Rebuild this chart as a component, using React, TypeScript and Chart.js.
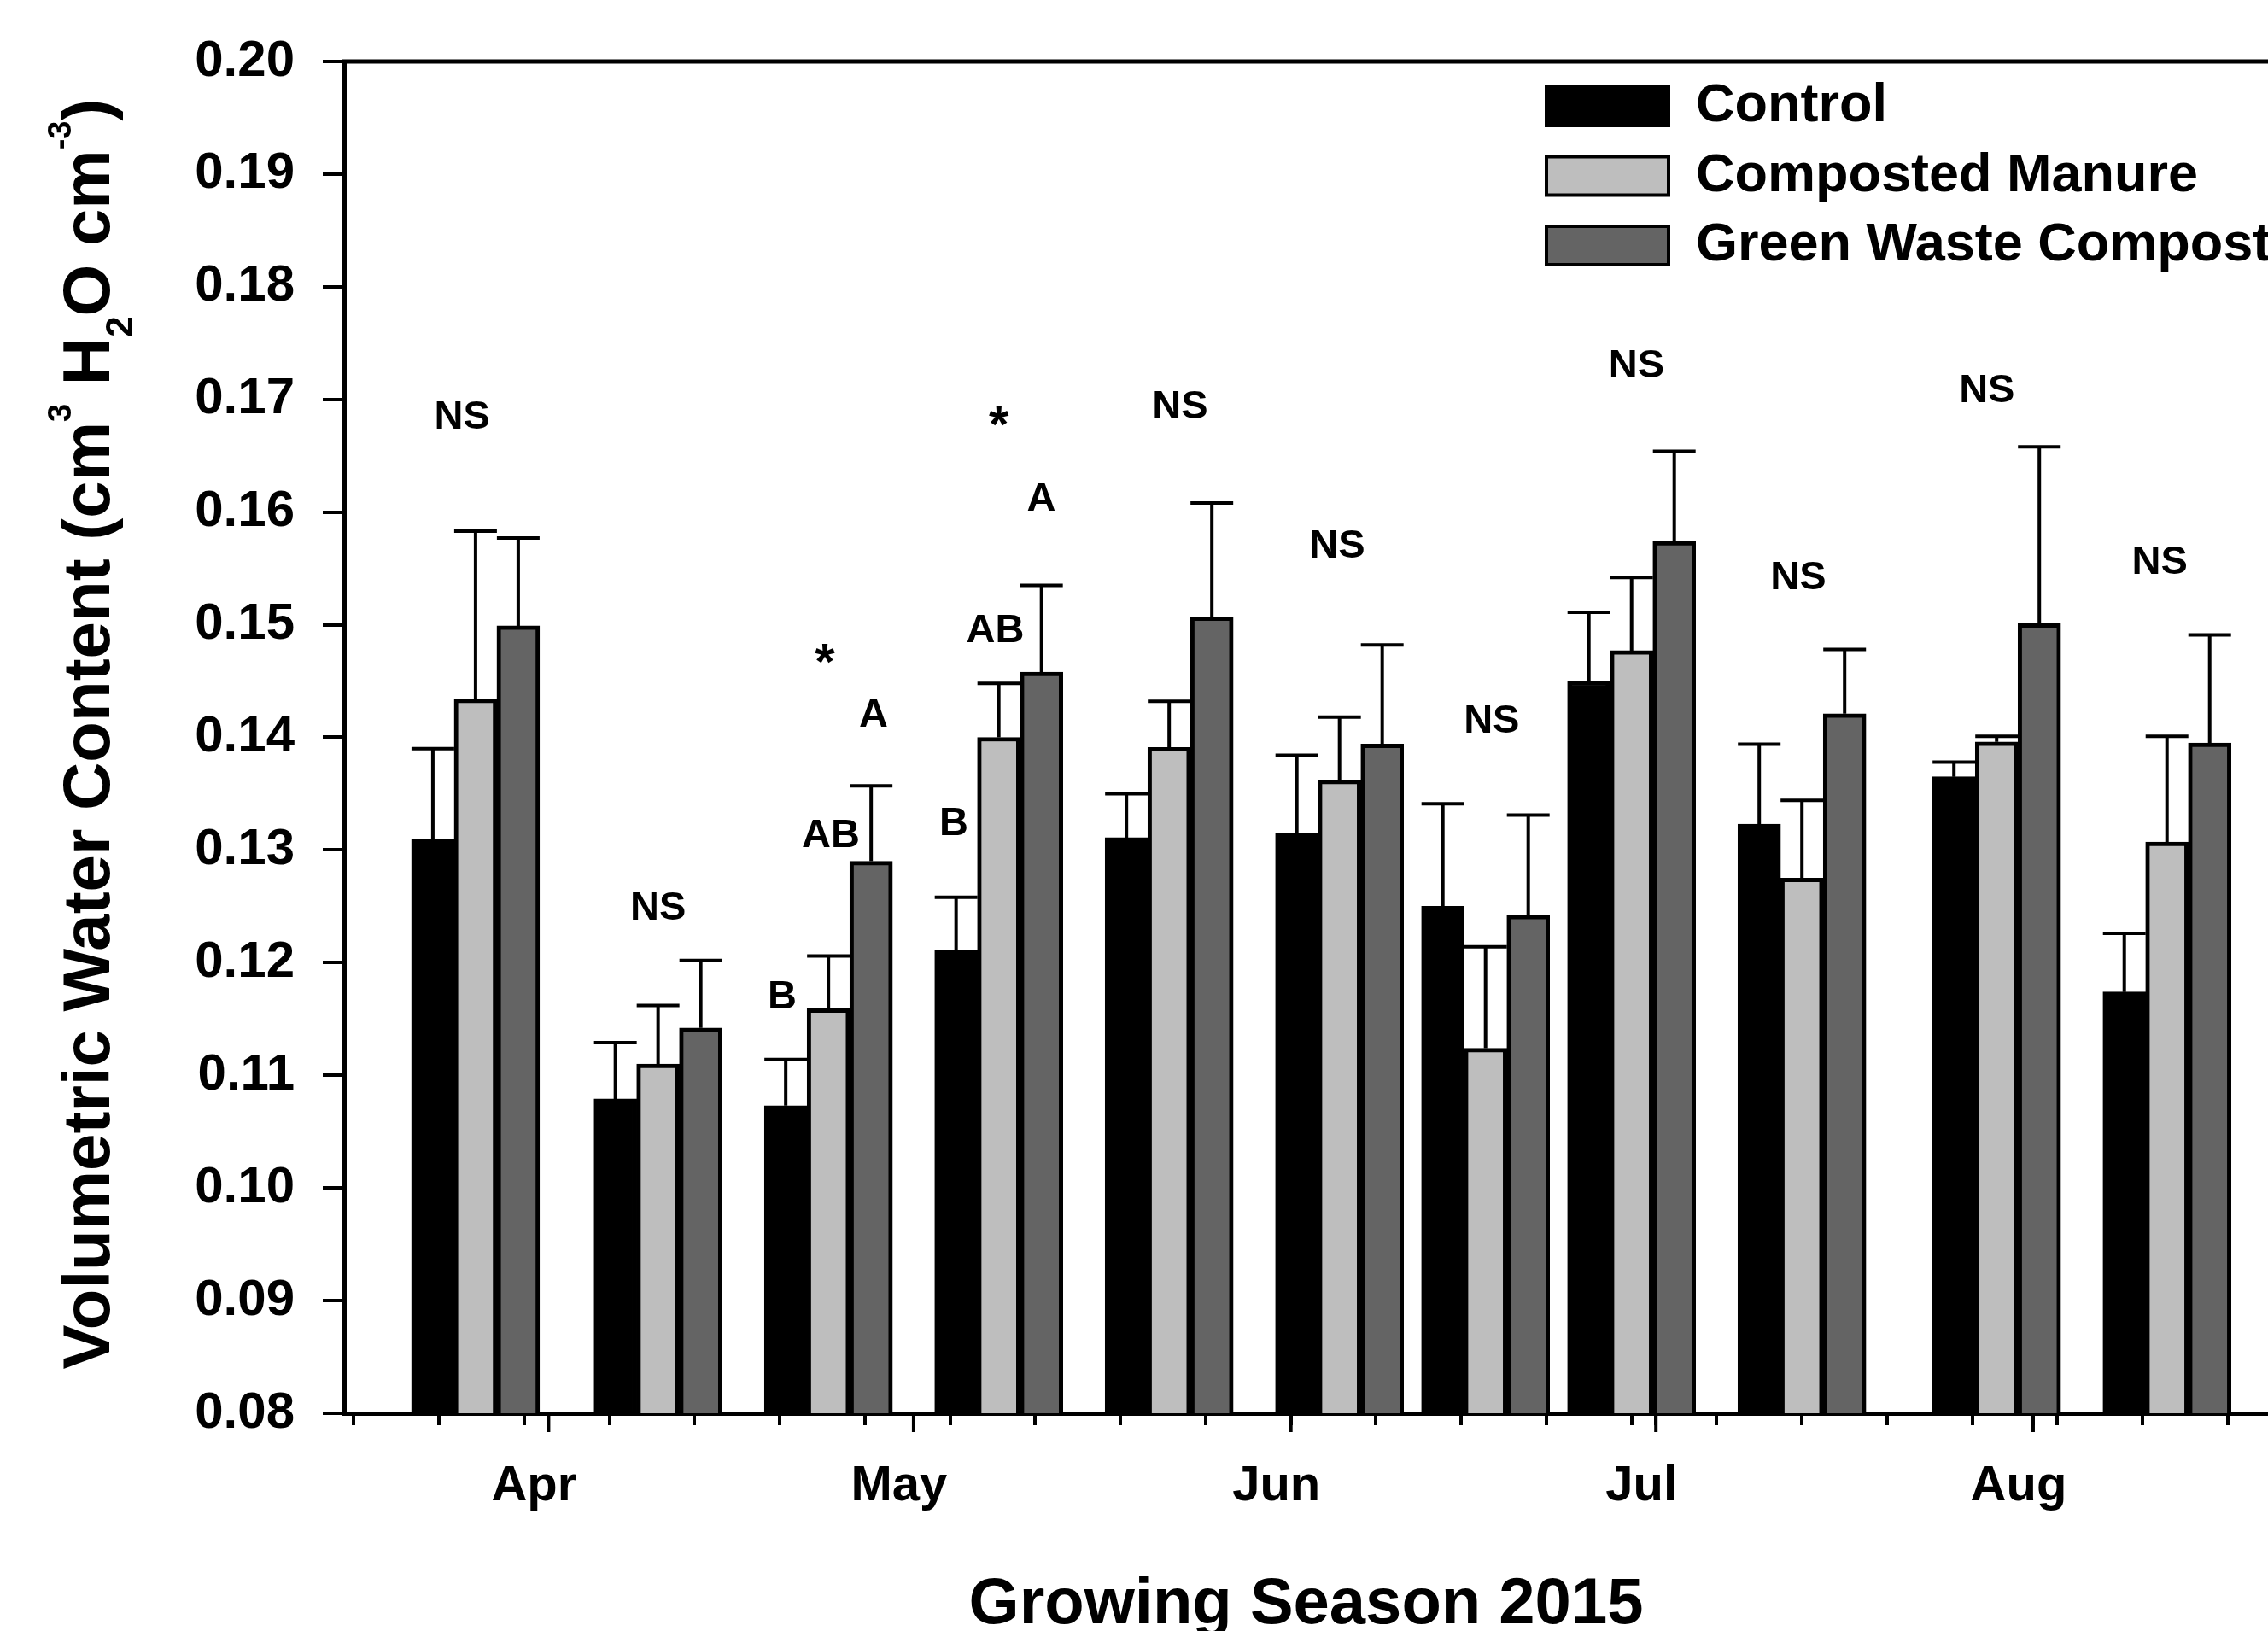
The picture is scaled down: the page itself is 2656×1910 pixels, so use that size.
import { useEffect, useRef } from 'react';
import { Chart, registerables } from 'chart.js';

Chart.register(...registerables);
Chart.defaults.font.family = "'Liberation Sans', Arial, Helvetica, sans-serif";
Chart.defaults.color = '#000';

// ---------------- data ----------------
const sampleDates = [
  '2015-03-26', '2015-04-10', '2015-04-24', '2015-05-08', '2015-05-22', '2015-06-05',
  '2015-06-17', '2015-06-29', '2015-07-13', '2015-07-29', '2015-08-12',
];
const seriesNames = ['Control', 'Composted Manure', 'Green Waste Compost'];
const seriesColors = ['#000000', '#bebebe', '#646464'];

const control = [0.1310, 0.1079, 0.1073, 0.1211, 0.1311, 0.1315, 0.1250, 0.1450, 0.1323, 0.1365, 0.1174];
const controlErr = [0.0080, 0.0050, 0.0041, 0.0047, 0.0039, 0.0069, 0.0091, 0.0061, 0.0071, 0.0013, 0.0052];
const manure = [0.1434, 0.1110, 0.1159, 0.1400, 0.1391, 0.1362, 0.1124, 0.1477, 0.1275, 0.1396, 0.1307];
const manureErr = [0.0149, 0.0052, 0.0047, 0.0048, 0.0041, 0.0056, 0.0090, 0.0065, 0.0069, 0.0005, 0.0094];
const green = [0.1499, 0.1142, 0.1290, 0.1458, 0.1507, 0.1394, 0.1242, 0.1574, 0.1421, 0.1501, 0.1395];
const greenErr = [0.0078, 0.0060, 0.0067, 0.0077, 0.0101, 0.0088, 0.0089, 0.0080, 0.0057, 0.0157, 0.0096];

const monthStarts = ['2015-04-01', '2015-05-01', '2015-06-01', '2015-07-01', '2015-08-01'];
const monthLabels = ['Apr', 'May', 'Jun', 'Jul', 'Aug'];
const firstWeeklyTick = '2015-03-16';
const lastWeeklyTick = '2015-08-17';

const yMin = 0.08;
const yMax = 0.2;
const yStep = 0.01;
// x-axis limits, in days from 1 April 2015
const xMinDay = -16.8;
const xMaxDay = 141.3;

// significance annotations: text, position in days from 1 April and in y units
const annotations = [
  { text: 'NS', day: -7.1, value: 0.1687 },
  { text: 'NS', day: 9.0, value: 0.1251 },
  { text: '*', day: 22.7, value: 0.1471 },
  { text: 'A', day: 26.7, value: 0.1422 },
  { text: 'AB', day: 23.2, value: 0.1315 },
  { text: 'B', day: 19.2, value: 0.1172 },
  { text: '*', day: 37.0, value: 0.1682 },
  { text: 'A', day: 40.5, value: 0.1614 },
  { text: 'AB', day: 36.7, value: 0.1497 },
  { text: 'B', day: 33.3, value: 0.1326 },
  { text: 'NS', day: 51.9, value: 0.1696 },
  { text: 'NS', day: 64.8, value: 0.1572 },
  { text: 'NS', day: 77.5, value: 0.1417 },
  { text: 'NS', day: 89.4, value: 0.1732 },
  { text: 'NS', day: 102.7, value: 0.1544 },
  { text: 'NS', day: 118.2, value: 0.1710 },
  { text: 'NS', day: 132.4, value: 0.1558 },
];

const xTitle = 'Growing Season 2015';
const yTitleParts = [
  { text: 'Volumetric Water Content (cm', kind: 'normal' },
  { text: '3', kind: 'sup' },
  { text: ' H', kind: 'normal' },
  { text: '2', kind: 'sub' },
  { text: 'O cm', kind: 'normal' },
  { text: '-3', kind: 'sup' },
  { text: ')', kind: 'normal' },
];

// ---------------- helpers ----------------
const DAY = 86400000;
const ORIGIN = Date.UTC(2015, 3, 1);
function dayOf(s: string): number {
  const [y, m, d] = s.split('-').map(Number);
  return (Date.UTC(y, m - 1, d) - ORIGIN) / DAY;
}

const monthDays = monthStarts.map(dayOf);
const weeklyDays: number[] = [];
for (let d = dayOf(firstWeeklyTick); d <= dayOf(lastWeeklyTick); d += 7) weeklyDays.push(d);
const tickDays = Array.from(new Set([...weeklyDays, ...monthDays])).sort((a, b) => a - b);

const seriesValues = [control, manure, green];
const seriesErrors = [controlErr, manureErr, greenErr];

const FONT = "'Liberation Sans', Arial, Helvetica, sans-serif";

// ---------------- plugins ----------------
const framePlugin = {
  id: 'frame',
  afterDraw(chart: any) {
    const { ctx, chartArea } = chart;
    ctx.save();
    ctx.strokeStyle = '#000';
    ctx.lineWidth = 5;
    ctx.beginPath();
    ctx.moveTo(chartArea.left - 2, chartArea.top);
    ctx.lineTo(chart.width, chartArea.top);
    ctx.stroke();
    // longer ticks at the start of each month
    const xs = chart.scales.x;
    ctx.lineWidth = 4;
    monthDays.forEach((d) => {
      const px = xs.getPixelForValue(d);
      ctx.beginPath();
      ctx.moveTo(px, chartArea.bottom);
      ctx.lineTo(px, chartArea.bottom + 22);
      ctx.stroke();
    });
    ctx.restore();
  },
};

const errorBarPlugin = {
  id: 'errorBars',
  afterDatasetsDraw(chart: any) {
    const { ctx } = chart;
    const ys = chart.scales.y;
    ctx.save();
    ctx.strokeStyle = '#000';
    ctx.lineWidth = 4;
    chart.data.datasets.forEach((ds: any, i: number) => {
      const meta = chart.getDatasetMeta(i);
      meta.data.forEach((bar: any, j: number) => {
        const v = seriesValues[i][j];
        const e = seriesErrors[i][j];
        const top = ys.getPixelForValue(v + e);
        const half = bar.width / 2;
        ctx.beginPath();
        ctx.moveTo(bar.x, bar.y);
        ctx.lineTo(bar.x, top);
        ctx.moveTo(bar.x - half, top);
        ctx.lineTo(bar.x + half, top);
        ctx.stroke();
      });
    });
    ctx.restore();
  },
};

const annotationPlugin = {
  id: 'sigLabels',
  afterDraw(chart: any) {
    const { ctx } = chart;
    const xs = chart.scales.x;
    const ys = chart.scales.y;
    ctx.save();
    ctx.fillStyle = '#000';
    ctx.textAlign = 'center';
    ctx.textBaseline = 'alphabetic';
    annotations.forEach((a) => {
      const px = xs.getPixelForValue(a.day);
      const py = ys.getPixelForValue(a.value);
      if (a.text === '*') {
        const fs = 60;
        ctx.font = `bold ${fs}px ${FONT}`;
        ctx.fillText(a.text, px, py + 0.42 * fs);
      } else {
        const fs = 47;
        ctx.font = `bold ${fs}px ${FONT}`;
        ctx.fillText(a.text, px, py + 0.358 * fs);
      }
    });
    ctx.restore();
  },
};

const legendPlugin = {
  id: 'boxLegend',
  afterDraw(chart: any) {
    const { ctx } = chart;
    ctx.save();
    ctx.font = `bold 63px ${FONT}`;
    ctx.textAlign = 'left';
    ctx.textBaseline = 'middle';
    chart.data.datasets.forEach((ds: any, i: number) => {
      const top = 102 + i * 81.5;
      ctx.fillStyle = ds.backgroundColor;
      ctx.fillRect(1811, top, 143, 45);
      ctx.strokeStyle = '#000';
      ctx.lineWidth = 4;
      ctx.strokeRect(1811, top, 143, 45);
      ctx.fillStyle = '#000';
      ctx.fillText(ds.label, 1986, top + 23);
    });
    ctx.restore();
  },
};

const yTitlePlugin = {
  id: 'yTitle',
  afterDraw(chart: any) {
    const { ctx, chartArea } = chart;
    const mainFont = `bold 78px ${FONT}`;
    const supFont = `bold 38px ${FONT}`;
    const subFont = `bold 44px ${FONT}`;
    const fontFor = (k: string) => (k === 'normal' ? mainFont : k === 'sup' ? supFont : subFont);
    ctx.save();
    let total = 0;
    const widths = yTitleParts.map((p) => {
      ctx.font = fontFor(p.kind);
      const w = ctx.measureText(p.text).width;
      total += w;
      return w;
    });
    const cy = (chartArea.top + chartArea.bottom) / 2 - 4;
    ctx.translate(128, cy);
    ctx.rotate(-Math.PI / 2);
    ctx.fillStyle = '#000';
    ctx.textAlign = 'left';
    ctx.textBaseline = 'alphabetic';
    let x = -total / 2;
    yTitleParts.forEach((p, i) => {
      ctx.font = fontFor(p.kind);
      const dy = p.kind === 'sup' ? -45 : p.kind === 'sub' ? 27 : 0;
      ctx.fillText(p.text, x, dy);
      x += widths[i];
    });
    ctx.restore();
  },
};

// ---------------- component ----------------
export default function App() {
  const ref = useRef<HTMLCanvasElement>(null);

  useEffect(() => {
    document.body.style.margin = '0';
    const canvas = ref.current;
    if (!canvas) return;

    const datasets = seriesNames.map((name, i) => ({
      label: name,
      data: sampleDates.map((d, j) => ({ x: dayOf(d), y: seriesValues[i][j] })),
      backgroundColor: seriesColors[i],
      borderColor: '#000',
      borderWidth: 5,
      borderSkipped: false,
      barThickness: 50,
    }));

    const chart = new Chart(canvas, {
      type: 'bar',
      data: { datasets } as any,
      plugins: [errorBarPlugin, framePlugin, annotationPlugin, legendPlugin, yTitlePlugin],
      options: {
        animation: false,
        responsive: false,
        maintainAspectRatio: false,
        devicePixelRatio: 1,
        layout: { padding: { top: 72, right: 0, bottom: 0, left: 0 } },
        plugins: {
          legend: { display: false },
          tooltip: { enabled: false },
          title: { display: false },
        },
        scales: {
          x: {
            type: 'linear',
            min: xMinDay,
            max: xMaxDay,
            offset: false,
            grid: {
              offset: false,
              drawOnChartArea: false,
              drawTicks: true,
              tickLength: 14,
              lineWidth: 4,
              tickWidth: 4,
              color: '#000',
              tickColor: '#000',
            },
            border: { display: true, width: 5, color: '#000' },
            ticks: {
              autoSkip: false,
              maxRotation: 0,
              minRotation: 0,
              padding: 37,
              labelOffset: -17,
              color: '#000',
              font: { size: 58, weight: 'bold' },
              callback: (v: any) => {
                const k = monthDays.indexOf(Number(v));
                return k >= 0 ? monthLabels[k] : '';
              },
            },
            afterBuildTicks: (s: any) => {
              s.ticks = tickDays.map((v) => ({ value: v }));
            },
            afterFit: (s: any) => {
              s.height = 255;
            },
            title: {
              display: true,
              text: xTitle,
              color: '#000',
              font: { size: 76, weight: 'bold', lineHeight: 0.8 },
              padding: 0,
            },
          },
          y: {
            type: 'linear',
            min: yMin,
            max: yMax,
            grid: {
              drawOnChartArea: false,
              drawTicks: true,
              tickLength: 25,
              lineWidth: 4,
              tickWidth: 4,
              color: '#000',
              tickColor: '#000',
            },
            border: { display: true, width: 5, color: '#000' },
            ticks: {
              stepSize: yStep,
              padding: 33,
              color: '#000',
              font: { size: 60, weight: 'bold' },
              callback: (v: any) => Number(v).toFixed(2),
            },
            afterFit: (s: any) => {
              s.width = 403;
            },
          },
        },
      } as any,
    });

    return () => chart.destroy();
  }, []);

  return (
    <canvas
      ref={ref}
      width={2656}
      height={1910}
      style={{ display: 'block', width: '2656px', height: '1910px' }}
    />
  );
}
